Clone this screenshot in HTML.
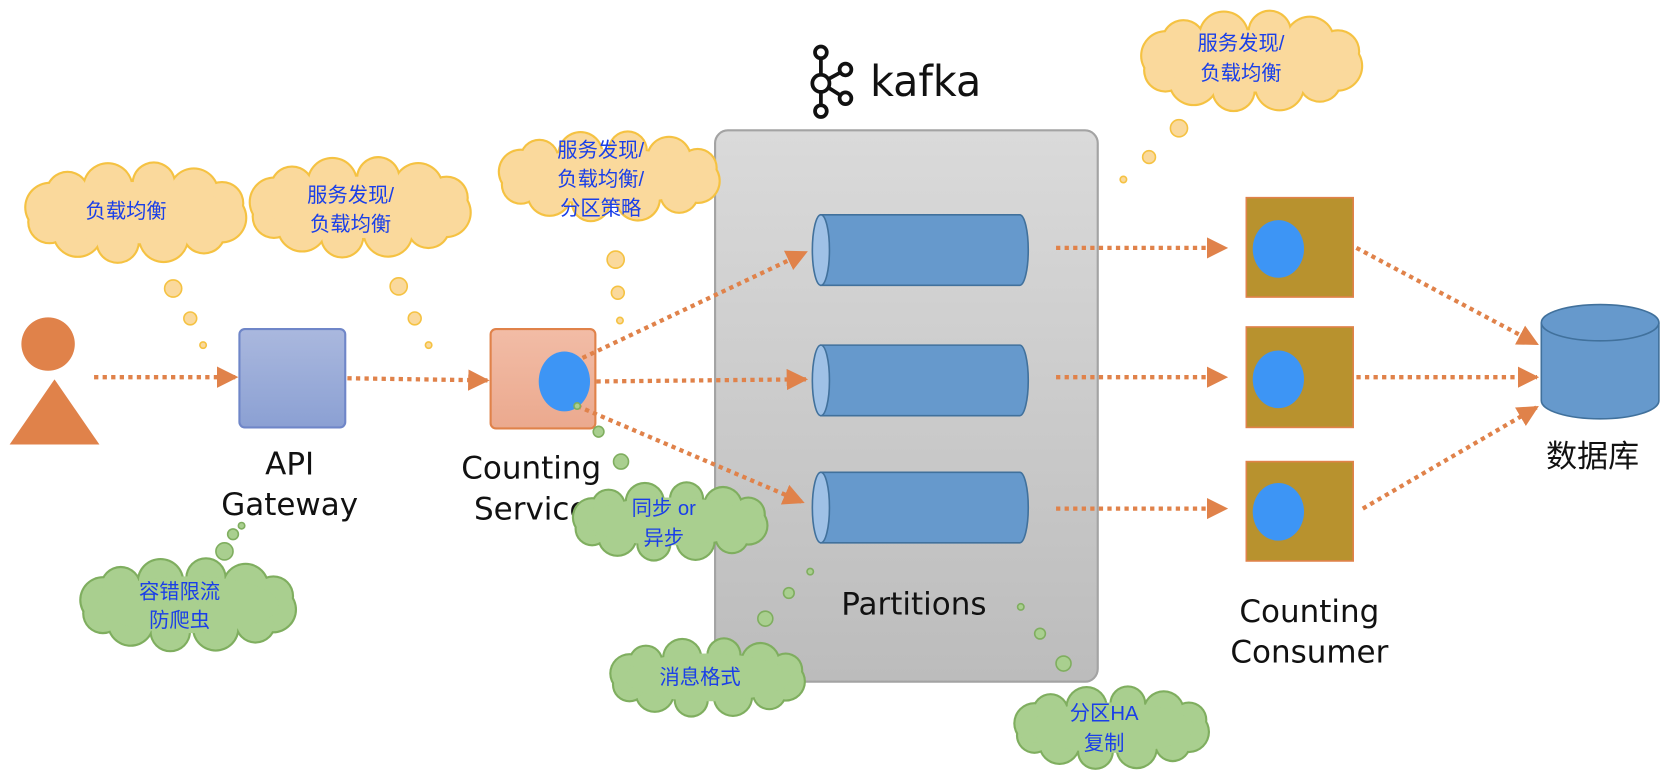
<!DOCTYPE html>
<html><head><meta charset="utf-8"><style>
html,body{margin:0;padding:0;background:#fff;width:1676px;height:780px;overflow:hidden}
svg{display:block}
.t{font-family:"Liberation Sans","Noto Sans CJK SC",sans-serif;fill:#1a3fe8;font-size:19px;text-anchor:middle}
.l{font-family:"DejaVu Sans","Liberation Sans","Noto Sans CJK SC",sans-serif;fill:#111;font-size:29px;text-anchor:middle}
.a{stroke:#e0824a;stroke-width:4;stroke-dasharray:4 4;fill:none}
</style></head><body>
<svg id="s" width="1676" height="780" viewBox="0 0 1568 730" preserveAspectRatio="none" xmlns="http://www.w3.org/2000/svg">
<defs>
<linearGradient id="gb" x1="0" y1="0" x2="0" y2="1"><stop offset="0" stop-color="#aab8de"/><stop offset="1" stop-color="#8ba0d3"/></linearGradient>
<linearGradient id="go" x1="0" y1="0" x2="0" y2="1"><stop offset="0" stop-color="#f2bca6"/><stop offset="1" stop-color="#eba98e"/></linearGradient>
<linearGradient id="gk" x1="0" y1="0" x2="0" y2="1"><stop offset="0" stop-color="#dadada"/><stop offset="1" stop-color="#bcbcbc"/></linearGradient>
<marker id="m" viewBox="0 0 10 10" refX="9" refY="5" markerWidth="5" markerHeight="5" orient="auto" markerUnits="strokeWidth"><path d="M0,0L10,5L0,10z" fill="#e0824a"/></marker>
</defs>
<!-- kafka box -->
<rect x="669" y="122" width="358" height="516" rx="12" fill="url(#gk)" stroke="#a3a3a3" stroke-width="2"/>
<!-- kafka logo -->
<g stroke="#111" stroke-width="3.5" fill="none">
<circle cx="768" cy="49" r="5.5"/><circle cx="768" cy="78" r="8"/><circle cx="768" cy="104" r="5.5"/>
<circle cx="791" cy="65" r="5.5"/><circle cx="791" cy="92" r="5.5"/>
<line x1="768" y1="55" x2="768" y2="70"/><line x1="768" y1="86" x2="768" y2="98"/>
<line x1="775" y1="74" x2="786" y2="68"/><line x1="775" y1="82" x2="786" y2="89"/>
</g>
<text x="814" y="90" font-family="DejaVu Sans,Liberation Sans,sans-serif" font-size="40" text-anchor="start" fill="#111" textLength="104" lengthAdjust="spacingAndGlyphs">kafka</text>
<!-- cylinders -->
<g fill="#6699cc" stroke="#41719c" stroke-width="1.5">
<path d="M768,201H954A8,33 0 0 1 954,267H768z"/><ellipse cx="768" cy="234" rx="8" ry="33" fill="#9fc1e6"/>
<path d="M768,323H954A8,33 0 0 1 954,389H768z"/><ellipse cx="768" cy="356" rx="8" ry="33" fill="#9fc1e6"/>
<path d="M768,442H954A8,33 0 0 1 954,508H768z"/><ellipse cx="768" cy="475" rx="8" ry="33" fill="#9fc1e6"/>
</g>
<text class="l" x="855" y="575">Partitions</text>
<!-- person -->
<circle cx="45" cy="322" r="25" fill="#e0824a"/>
<path d="M9,416H93L51,355z" fill="#e0824a"/>
<!-- API gateway -->
<rect x="224" y="308" width="99" height="92" rx="5" fill="url(#gb)" stroke="#6f86c8" stroke-width="2"/>
<text class="l" x="271" y="444">API</text><text class="l" x="271" y="482">Gateway</text>
<!-- counting service -->
<rect x="459" y="308" width="98" height="93" rx="5" fill="url(#go)" stroke="#e0824a" stroke-width="2"/>
<ellipse cx="528" cy="357" rx="24" ry="28" fill="#3d95f5"/>
<text class="l" x="497" y="448">Counting</text><text class="l" x="497" y="486">Service</text>
<!-- consumers -->
<g fill="#b8922e" stroke="#e0824a" stroke-width="1.5">
<rect x="1166" y="185" width="100" height="93"/><rect x="1166" y="306" width="100" height="94"/><rect x="1166" y="432" width="100" height="93"/>
</g>
<g fill="#3d95f5"><ellipse cx="1196" cy="233" rx="24" ry="27"/><ellipse cx="1196" cy="355" rx="24" ry="27"/><ellipse cx="1196" cy="479" rx="24" ry="27"/></g>
<text class="l" x="1225" y="582">Counting</text><text class="l" x="1225" y="620">Consumer</text>
<!-- DB -->
<path d="M1442,302V375A55,17 0 0 0 1552,375V302" fill="#6699cc" stroke="#41719c" stroke-width="1.5"/>
<ellipse cx="1497" cy="302" rx="55" ry="17" fill="#6699cc" stroke="#41719c" stroke-width="1.5"/>
<text class="l" x="1490" y="437" font-size="30" font-family="Liberation Sans,Noto Sans CJK SC,sans-serif">数据库</text>
<!-- arrows -->
<g class="a">
<line x1="88" y1="353" x2="221" y2="353" marker-end="url(#m)"/>
<line x1="325" y1="354" x2="456" y2="356" marker-end="url(#m)"/>
<line x1="545" y1="335" x2="754" y2="236" marker-end="url(#m)"/>
<line x1="558" y1="357" x2="754" y2="355" marker-end="url(#m)"/>
<line x1="540" y1="380" x2="751" y2="470" marker-end="url(#m)"/>
<line x1="988" y1="232" x2="1147" y2="232" marker-end="url(#m)"/>
<line x1="988" y1="353" x2="1147" y2="353" marker-end="url(#m)"/>
<line x1="988" y1="476" x2="1147" y2="476" marker-end="url(#m)"/>
<line x1="1269" y1="232" x2="1438" y2="322" marker-end="url(#m)"/>
<line x1="1269" y1="353" x2="1438" y2="353" marker-end="url(#m)"/>
<line x1="1275" y1="476" x2="1438" y2="381" marker-end="url(#m)"/>
</g>
<g id="clouds"></g>
<g id="bub"></g>
<g id="txt">
<text class="t" x="118" y="204">负载均衡</text>
<text class="t" x="328" y="189">服务发现/</text><text class="t" x="328" y="216">负载均衡</text>
<text class="t" x="562" y="147">服务发现/</text><text class="t" x="562" y="174">负载均衡/</text><text class="t" x="562" y="201">分区策略</text>
<text class="t" x="1161" y="47">服务发现/</text><text class="t" x="1161" y="75">负载均衡</text>
<text class="t" x="168" y="560">容错限流</text><text class="t" x="168" y="587">防爬虫</text>
<text class="t" x="621" y="482">同步 or</text><text class="t" x="621" y="510">异步</text>
<text class="t" x="655" y="640">消息格式</text>
<text class="t" x="1033" y="674">分区HA</text><text class="t" x="1033" y="702">复制</text>
</g>
</svg>
<script>
var NS="http://www.w3.org/2000/svg";
function el(p,n,a){var e=document.createElementNS(NS,n);for(var k in a)e.setAttribute(k,a[k]);p.appendChild(e);return e;}
var cg=document.getElementById("clouds"),bg=document.getElementById("bub");
function cloud(cx,cy,w,h,fill,stroke){
  var g=el(cg,"g",{}),cs=[];
  var n=12,r=0.22*h;
  for(var i=0;i<n;i++){var a=i/n*2*Math.PI+0.2;var rr=r*(i%2?0.95:1.1);
    cs.push([cx+(0.5*w-rr)*Math.cos(a),cy+(0.5*h-rr)*Math.sin(a),rr]);}
  cs.forEach(function(c){el(g,"circle",{cx:c[0],cy:c[1],r:c[2]+1,fill:stroke});});
  cs.forEach(function(c){el(g,"circle",{cx:c[0],cy:c[1],r:c[2]-1,fill:fill});});
  el(g,"ellipse",{cx:cx,cy:cy,rx:0.5*w-r*0.9,ry:0.5*h-r*0.9,fill:fill});
}
var Y=["#fad99c","#f5c242"],G=["#a9cf8f","#7fae5f"];
cloud(127,199,210,95,Y[0],Y[1]);
cloud(337,194,210,95,Y[0],Y[1]);
cloud(570,165,210,85,Y[0],Y[1]);
cloud(1171,57,210,95,Y[0],Y[1]);
cloud(176,566,205,88,G[0],G[1]);
cloud(627,488,185,74,G[0],G[1]);
cloud(662,634,185,74,G[0],G[1]);
cloud(1040,681,185,78,G[0],G[1]);
function b(x,y,r,c){el(bg,"circle",{cx:x,cy:y,r:r,fill:c[0],stroke:c[1],"stroke-width":1.5});}
[[162,270,8],[178,298,6],[190,323,3],[373,268,8],[388,298,6],[401,323,3],[576,243,8],[578,274,6],[580,300,3],[1103,120,8],[1075,147,6],[1051,168,3]].forEach(function(p){b(p[0],p[1],p[2],Y);});
[[226,492,3],[218,500,5],[210,516,8],[540,380,3],[560,404,5],[581,432,7],[758,535,3],[738,555,5],[716,579,7],[955,568,3],[973,593,5],[995,621,7]].forEach(function(p){b(p[0],p[1],p[2],G);});
</script>
</body></html>
